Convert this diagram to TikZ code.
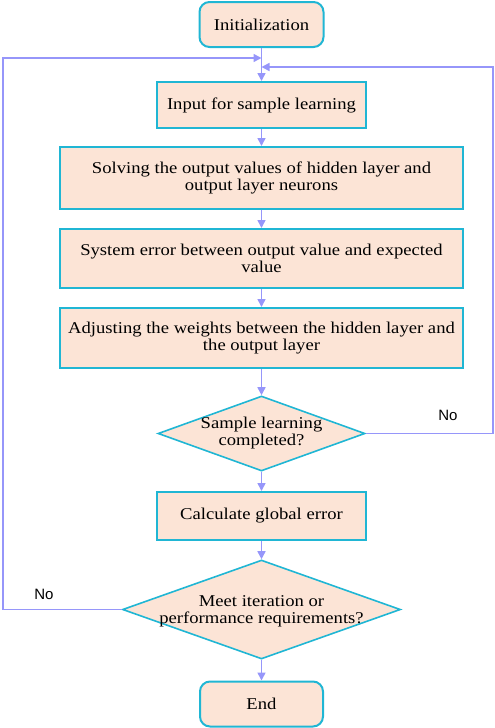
\documentclass[tikz,border=0pt]{standalone}
\usepackage{fontspec}
\setmainfont{Liberation Serif}[FakeStretch=1.13]
\newfontfamily\labelfont{Liberation Sans}
\usetikzlibrary{shapes.geometric,arrows.meta}
\definecolor{peach}{RGB}{252,228,214}
\definecolor{bordercyan}{RGB}{32,182,212}
\definecolor{arrowlav}{RGB}{150,150,250}
\tikzset{
  boxstyle/.style={draw=bordercyan, fill=peach, line width=2pt, rectangle, inner sep=0pt},
  termstyle/.style={boxstyle, rounded corners=10pt},
  decstyle/.style={draw=bordercyan, fill=peach, line width=1.6pt, diamond, inner sep=0pt},
  txt/.style={align=center, font=\fontsize{16.5}{17}\selectfont, text=black},
  flow/.style={draw=arrowlav, line width=1.6pt, -{Triangle[length=8pt,width=8pt]}},
  nolabel/.style={font=\labelfont\fontsize{15}{17}\selectfont, text=black}
}
\begin{document}
\begin{tikzpicture}[x=1pt,y=-1pt]
\useasboundingbox (0,0) rectangle (495,728);

\node[termstyle, minimum width=124pt, minimum height=45pt] (init) at (261.5,24.5) {};
\node[txt] (initt) at (init) {Initialization};

\node[boxstyle, minimum width=209pt, minimum height=46pt] (b1) at (261.5,105) {};
\node[txt] (b1t) at (b1) {Input for sample learning};

\node[boxstyle, minimum width=403pt, minimum height=62pt] (b2) at (261.5,178) {};
\node[txt] (b2t) at (b2) {Solving the output values of hidden layer and\\output layer neurons};

\node[boxstyle, minimum width=403pt, minimum height=59pt] (b3) at (261.5,258.5) {};
\node[txt] (b3t) at (b3) {System error between output value and expected\\value};

\node[boxstyle, minimum width=403pt, minimum height=60pt] (b4) at (261.5,338) {};
\node[txt] (b4t) at (b4) {Adjusting the weights between the hidden layer and\\the output layer};

\node[decstyle, minimum width=207pt, minimum height=75pt] (d1) at (261.5,433.5) {};
\node[txt] (d1t) at (d1) {Sample learning\\completed?};

\node[boxstyle, minimum width=209pt, minimum height=48pt] (b5) at (261.5,516) {};
\node[txt] (b5t) at (b5) {Calculate global error};

\node[decstyle, minimum width=278pt, minimum height=99pt] (d2) at (261.5,609.5) {};
\node[txt] (d2t) at (261.5,611) {Meet iteration or\\performance requirements?};

\node[termstyle, minimum width=123pt, minimum height=45pt] (end) at (261.5,704) {};
\node[txt] (endt) at (end) {End};

\coordinate (lj) at (261.5,58);
\coordinate (rj) at (261.5,67);
\coordinate (lc1) at (3,609.5);
\coordinate (lc2) at (3,58);
\coordinate (rc1) at (493,433.5);
\coordinate (rc2) at (493,67);

\draw[flow] (init.south) -- (b1.north);
\draw[flow] (b1.south) -- (b2.north);
\draw[flow] (b2.south) -- (b3.north);
\draw[flow] (b3.south) -- (b4.north);
\draw[flow] (b4.south) -- (d1.north);
\draw[flow] (d1.south) -- (b5.north);
\draw[flow] (b5.south) -- (d2.north);
\draw[flow] (d2.south) -- (end.north);

\draw[flow] (d2.west) -- (lc1) -- (lc2) -- (lj);
\draw[flow] (d1.east) -- (rc1) -- (rc2) -- (rj);

\node[nolabel] (no1) at (448,415) {No};
\node[nolabel] (no2) at (44,594) {No};
\end{tikzpicture}
\end{document}
